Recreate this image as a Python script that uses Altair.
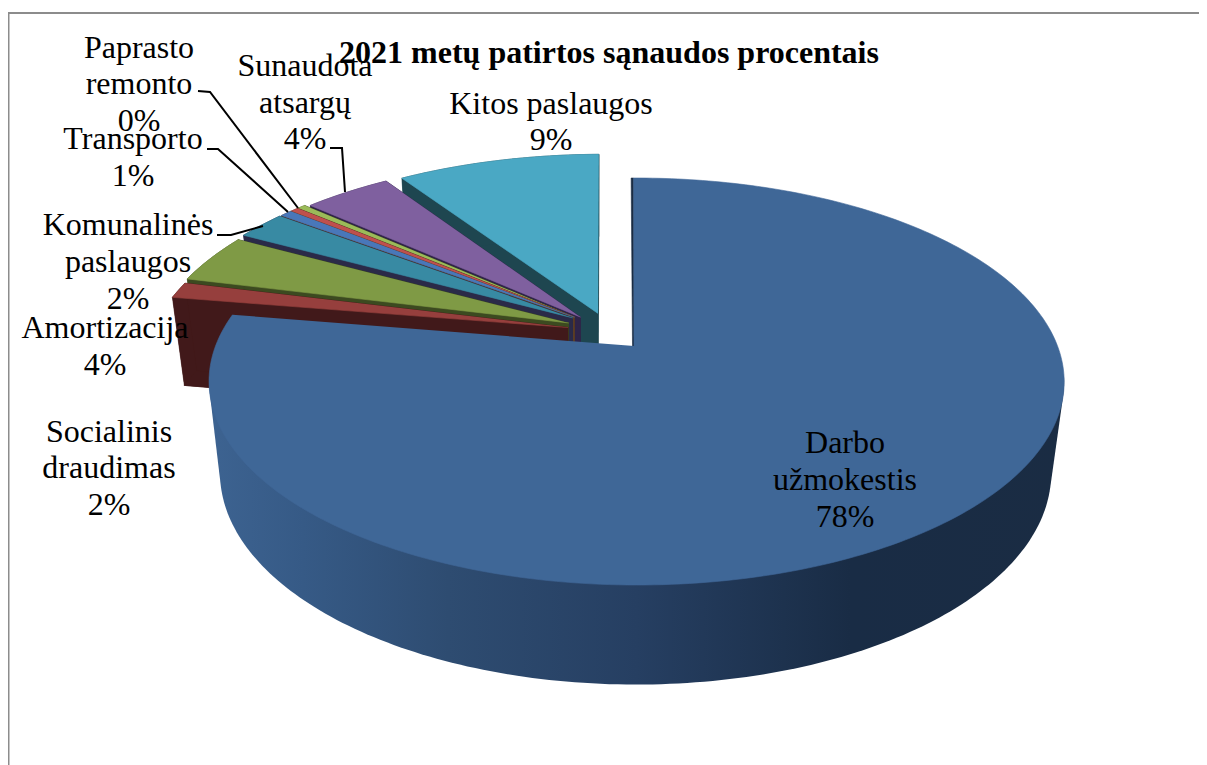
import math
import altair as alt
import pandas as pd

alt.data_transformers.disable_max_rows()

# Slice sizes (percent of the circle), clockwise from 12 o'clock
slice_names = ["Darbo", "Socialinis", "Amortizacija", "Komunalines", "Transporto",
               "Remontas", "Kitas", "Atsargos", "Kitos"]
shares = [77.6, 1.3, 4.0, 2.3, 0.55, 0.4, 0.4, 4.0, 9.25]
top_colors = ["#3f6797", "#963f3d", "#7f9a45", "#388aa3", "#4977b9", "#bf504d", "#9bbb59", "#7f609f", "#4aa8c4"]
wall_colors = ["#1a2c43", "#41191a", "#3c4a20", "#2a2a48", "#5a3d25", "#4a1f1f", "#46521f", "#2f2448", "#1e4650"]
# Explosion of each slice in units of the pie radius
explode_u = [0.006, -0.159, -0.158, -0.149, -0.145, -0.145, -0.145, -0.13, -0.088]
explode_v = [0.0, -0.095, -0.119, -0.146, -0.15, -0.15, -0.15, -0.15, -0.17]
# Shading of Darbo's outer wall, left to right
shade_offsets = [0.0, 0.11, 0.28, 0.5, 0.75, 1.0]
shade_colors = ["#3d6391", "#365a86", "#2e4c71", "#263f62", "#192c45", "#1a2c43"]

title_text = "2021 metų patirtos sąnaudos procentais"
label_lines = [
    ("Paprasto", 139, 58), ("remonto", 139, 94), ("0%", 139, 131),
    ("Sunaudota", 305, 76), ("atsargų", 305, 113), ("4%", 305, 149),
    ("Transporto", 133, 149), ("1%", 133, 186),
    ("Komunalinės", 128, 235), ("paslaugos", 128, 272), ("2%", 128, 309),
    ("Amortizacija", 105, 338), ("4%", 105, 375),
    ("Socialinis", 109, 442), ("draudimas", 109, 478), ("2%", 109, 515),
    ("Kitos paslaugos", 551, 114), ("9%", 551, 150),
    ("Darbo", 845, 453), ("užmokestis", 845, 490), ("78%", 845, 527),
]
leaders = [
    [(198, 91), (210, 92), (298, 208)],
    [(207, 149), (218, 149), (288, 212)],
    [(217, 235), (231, 235), (263, 226)],
    [(330, 148), (342, 148), (345, 192)],
]
frame = [(1199, 13), (8.5, 13), (8.5, 765)]

# Perspective of the pie plane
CX, CY, A, B, K = 634.0, 346.0, 421.0, 197.3, 0.1745


def top_point(u, v):
    w = 1 - K * v
    return CX + A * u / w, CY + B * v / w


def low_point(p):
    x, y = p
    return 600 + (x - 600) * 0.972, y + 88 + (y - 296) * 0.04


def convex_hull(points):
    pts = sorted(set(points))

    def half(seq):
        out = []
        for p in seq:
            while len(out) >= 2 and (out[-1][0] - out[-2][0]) * (p[1] - out[-2][1]) - (out[-1][1] - out[-2][1]) * (p[0] - out[-2][0]) <= 0:
                out.pop()
            out.append(p)
        return out[:-1]

    return half(pts) + half(pts[::-1])


def make_polys(store, points, color):
    pid = f"p{len({r['pid'] for r in store}):04d}"
    for n, (x, y) in enumerate(points):
        store.append({"pid": pid, "n": n, "x": x, "y": y, "c": color})


back_rows = []
front_rows = []
side_rows = []

starts = []
acc = 0.0
for s in shares:
    starts.append(acc)
    acc += s

# Back slices first, Darbo last
for i in range(len(shares) - 1, -1, -1):
    a0 = starts[i] / 100 * 2 * math.pi
    a1 = (starts[i] + shares[i]) / 100 * 2 * math.pi
    if i == 0:
        a0 -= 0.007
    n_steps = max(2, int(math.degrees(a1 - a0)))
    angs = [a0 + (a1 - a0) * k / n_steps for k in range(n_steps + 1)]
    rim = [top_point(explode_u[i] + math.sin(a), explode_v[i] - math.cos(a)) for a in angs]
    apex = top_point(explode_u[i] if i else 0.0, explode_v[i])
    low_rim = [low_point(p) for p in rim]
    low_apex = low_point(apex)
    wall = wall_colors[i]
    if i > 0:
        make_polys(back_rows, [low_apex] + low_rim, wall)
        make_polys(back_rows, [apex, rim[0], low_rim[0], low_apex], wall)
        make_polys(back_rows, [apex, rim[-1], low_rim[-1], low_apex], wall)
        make_polys(back_rows, rim + low_rim[::-1], wall)
        make_polys(back_rows, [apex] + rim, top_colors[i])
    else:
        front = [k for k, a in enumerate(angs) if math.radians(98) <= a <= math.radians(262)]
        hull = convex_hull([rim[k] for k in front] + [low_rim[k] for k in front])
        make_polys(side_rows, hull, wall)
        make_polys(front_rows, [apex, rim[0], (rim[0][0] - 2.5, rim[0][1]), (apex[0] - 1.5, apex[1])], wall)
        make_polys(front_rows, [apex] + rim, top_colors[i])

x_scale = alt.Scale(domain=[8, 1199], nice=False, zero=False)
y_scale = alt.Scale(domain=[765, 8], nice=False, zero=False)
X = alt.X("x:Q", scale=x_scale, axis=None)
Y = alt.Y("y:Q", scale=y_scale, axis=None)


def poly_layer(rows):
    return alt.Chart(pd.DataFrame(rows)).mark_line(filled=True, strokeWidth=0.6).encode(
        x=X, y=Y,
        detail="pid:N",
        order="n:Q",
        fill=alt.Fill("c:N", scale=None),
        stroke=alt.Stroke("c:N", scale=None),
    )


back_layer = poly_layer(back_rows)
front_layer = poly_layer(front_rows)
side_layer = alt.Chart(pd.DataFrame(side_rows)).mark_line(
    filled=True,
    strokeWidth=0,
    fill=alt.Gradient(
        gradient="linear", x1=0, x2=1, y1=0, y2=0,
        stops=[alt.GradientStop(offset=o, color=c) for o, c in zip(shade_offsets, shade_colors)],
    ),
).encode(x=X, y=Y, order="n:Q")

frame_df = pd.DataFrame([{"x": x, "y": y, "n": n} for n, (x, y) in enumerate(frame)])
frame_layer = alt.Chart(frame_df).mark_line(color="#8c8c8c", strokeWidth=2).encode(x=X, y=Y, order="n:Q")

lead_df = pd.DataFrame([{"x": x, "y": y, "n": n, "g": g}
                        for g, line in enumerate(leaders) for n, (x, y) in enumerate(line)])
lead_layer = alt.Chart(lead_df).mark_line(color="#000000", strokeWidth=2).encode(
    x=X, y=Y, order="n:Q", detail="g:N")

text_df = pd.DataFrame([{"t": t, "x": x, "y": y} for t, x, y in label_lines])
text_layer = alt.Chart(text_df).mark_text(
    font="Liberation Serif", fontSize=32, align="center", baseline="alphabetic", color="#000000"
).encode(x=X, y=Y, text="t:N")

title_df = pd.DataFrame([{"t": title_text, "x": 609, "y": 63}])
title_layer = alt.Chart(title_df).mark_text(
    font="Liberation Serif", fontSize=32, fontWeight="bold", align="center", baseline="alphabetic", color="#000000"
).encode(x=X, y=Y, text="t:N")

chart = alt.layer(frame_layer, back_layer, side_layer, front_layer, lead_layer, text_layer, title_layer).properties(
    width=1191, height=757, padding=0, background="#ffffff",
    autosize=alt.AutoSizeParams(type="none"),
).configure_view(stroke=None)

chart.save("out.html", embed_options={"renderer": "svg", "actions": False})
